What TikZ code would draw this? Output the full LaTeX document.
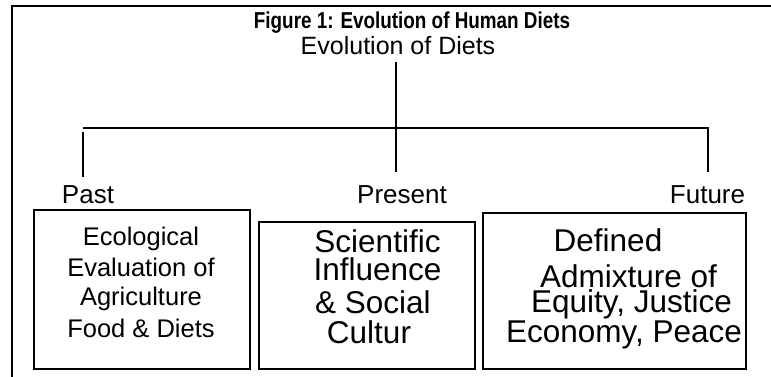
\documentclass[tikz,border=0pt]{standalone}
\usepackage{graphicx}
\usepackage{fontspec}
\setmainfont{Liberation Sans}
\begin{document}
\begin{tikzpicture}[x=1pt,y=-1pt,
  frame/.style={draw=black,line width=1.8pt},
  link/.style={draw=black,line width=1.8pt},
  box/.style={draw=black,line width=1.5pt,rectangle,inner sep=0pt,anchor=north west},
  ttl/.style={font=\bfseries\fontsize{23}{27}\selectfont,anchor=base,inner sep=0pt},
  rootlbl/.style={font=\fontsize{25}{30}\selectfont,anchor=base,inner sep=0pt},
  era/.style={font=\fontsize{26}{31}\selectfont,anchor=base,inner sep=0pt},
  small/.style={font=\fontsize{25.5}{30}\selectfont,anchor=base,inner sep=0pt},
  big/.style={font=\fontsize{31.5}{36}\selectfont,anchor=base,inner sep=0pt}]
\useasboundingbox (0,0) rectangle (771,376);
\fill[white] (0,0) rectangle (771,376);

% outer frame (runs off the right and bottom edges)
\draw[frame] (12,380) -- (12,6) -- (780,6);

% headings
\node[ttl] (title) at (412,28) {\scalebox{0.82}[1]{Figure 1: Evolution of Human Diets}};
\node[rootlbl] (root) at (398,54) {Evolution of Diets};

% branch points
\coordinate (hub) at (396,128);
\coordinate (barL) at (83,128);
\coordinate (barR) at (708,128);
\coordinate (pastTop) at (83,132);
\coordinate (pastEnd) at (83,177);
\coordinate (presEnd) at (396,172);
\coordinate (futEnd) at (708,172);

\draw[link] ([yshift=-8pt]root.base -| hub) -- (hub);
\draw[link] (barL) -- (barR) -- (futEnd);
\draw[link] (hub) -- (presEnd);
\draw[link] (pastTop) -- (pastEnd);

% era labels
\node[era] (past) at (88,203) {Past};
\node[era] (present) at (402,203) {Present};
\node[era] (future) at (707.5,203) {Future};

% boxes
\node[box,minimum width=216pt,minimum height=159pt] (pastbox) at (33,209) {};
\node[box,minimum width=216pt,minimum height=147pt] (presbox) at (258,221) {};
\node[box,minimum width=263pt,minimum height=156pt] (futbox) at (482,212) {};

% past box text
\node[small] (p1) at (141,245) {Ecological};
\node[small] (p2) at (141,276) {Evaluation of};
\node[small] (p3) at (141,305) {Agriculture};
\node[small] (p4) at (141,337) {Food \& Diets};

% present box text
\node[big] (s1) at (377.5,252) {Scientific};
\node[big] (s2) at (377.5,280) {Influence};
\node[big] (s3) at (373,313) {\& Social};
\node[big] (s4) at (369,343) {Cultur};

% future box text
\node[big] (f1) at (608,251) {Defined};
\node[big] (f2) at (628.5,287) {Admixture of};
\node[big] (f3) at (631.5,312) {Equity, Justice};
\node[big] (f4) at (624,342) {Economy, Peace};
\end{tikzpicture}
\end{document}
